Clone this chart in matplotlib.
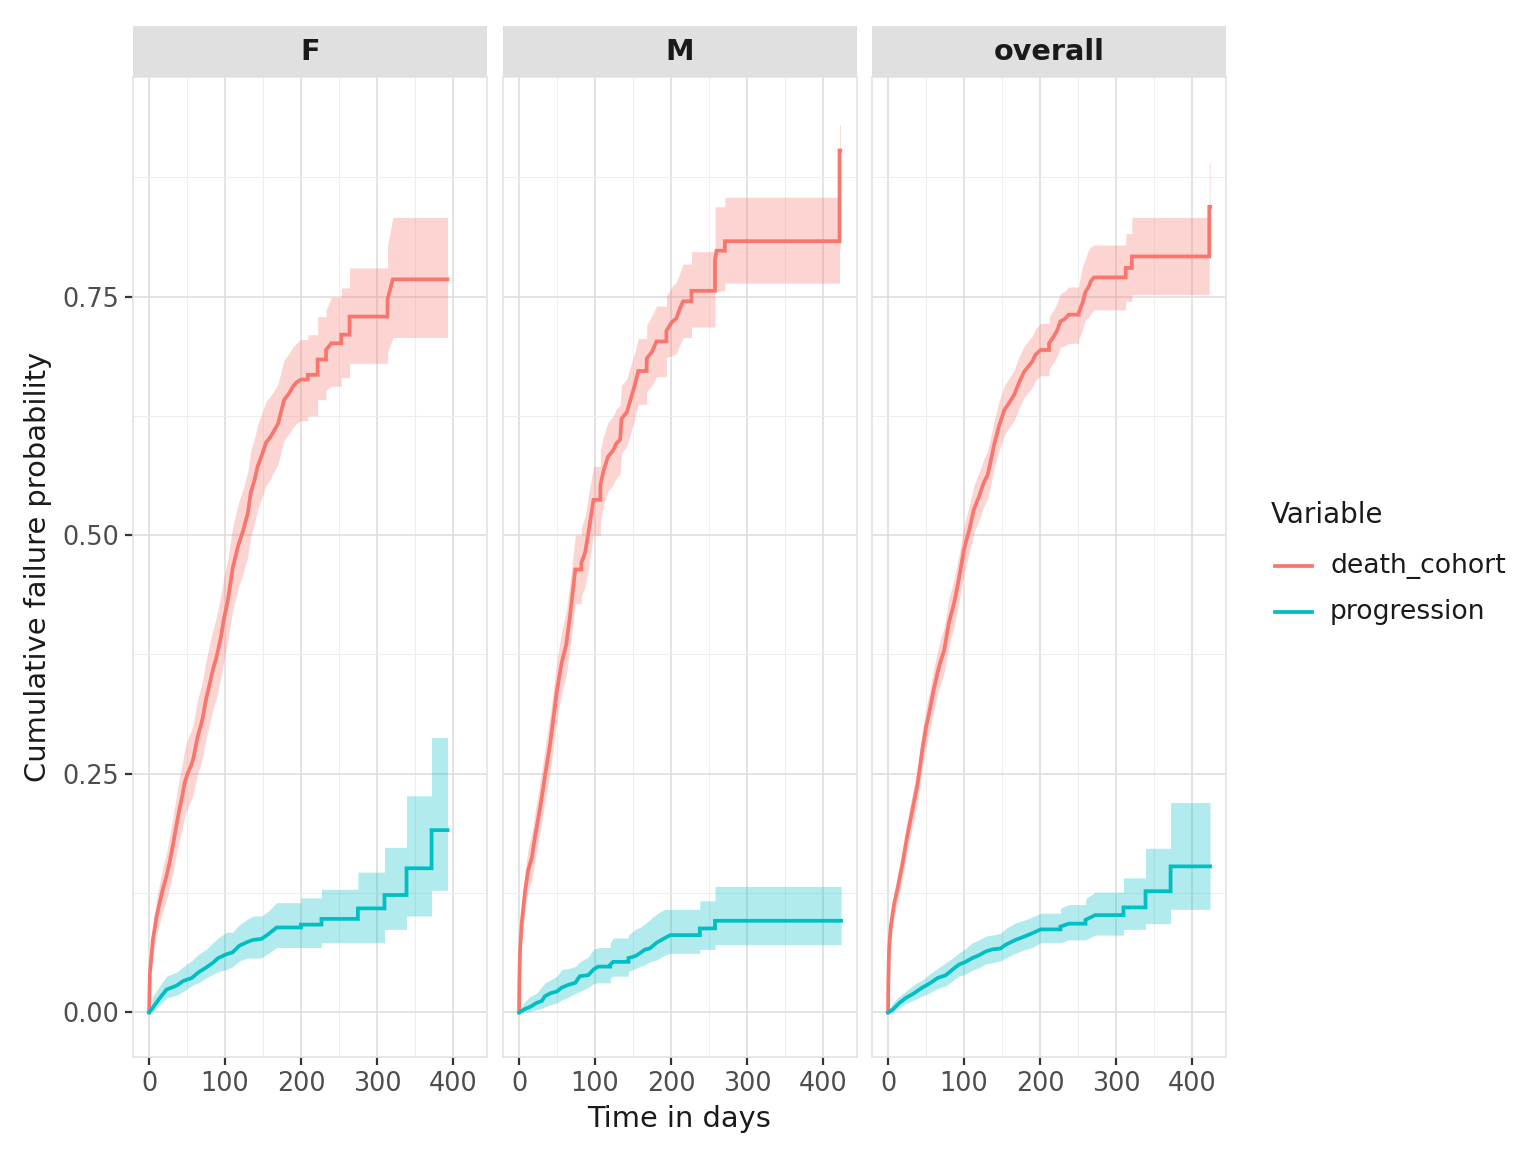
import matplotlib
matplotlib.use("Agg")
import matplotlib.pyplot as plt
from matplotlib.lines import Line2D
from matplotlib.ticker import FormatStrFormatter

# cumulative failure curves, step knots (days)
# est = estimate, lo/hi = confidence band at the same knots

# ---- F ----
f_death_t = [0, 1, 5, 10, 14, 18, 23, 27, 32, 36, 40, 44, 47, 51, 55, 58, 61, 64, 68, 71,
             75, 80, 84, 88, 91, 95, 98, 104, 110, 117, 124, 130, 134, 139, 143, 149, 154, 160,
             165, 170, 174, 178, 184, 189, 194, 200, 209, 222, 233, 240, 253, 264, 314, 321, 393]
f_death_est = [0, .041, .076, .101, .115, .129, .143, .157, .178, .196, .213, .228, .241, .251,
               .258, .265, .277, .289, .300, .310, .328, .345, .359, .370, .380, .395, .410, .433,
               .465, .488, .505, .523, .545, .558, .572, .585, .597, .603, .610, .617, .630, .642,
               .648, .655, .660, .663, .668, .684, .694, .701, .710, .729, .747, .768, .768]
f_death_lo = [0, .030, .060, .082, .094, .106, .118, .130, .148, .165, .180, .194, .206, .215,
              .222, .228, .239, .250, .260, .270, .287, .303, .317, .328, .338, .352, .367, .390,
              .421, .444, .460, .478, .499, .513, .527, .540, .552, .559, .567, .575, .588, .600,
              .606, .612, .617, .620, .625, .642, .652, .656, .665, .680, .691, .707, .707]
f_death_hi = [0, .052, .092, .120, .136, .152, .168, .184, .208, .227, .246, .262, .276, .287,
              .294, .302, .315, .328, .340, .350, .369, .387, .401, .412, .423, .439, .454, .476,
              .508, .532, .549, .567, .589, .602, .616, .629, .640, .646, .652, .659, .672, .684,
              .690, .697, .701, .705, .710, .729, .736, .749, .759, .780, .803, .833, .833]

f_prog_t = [0, 5, 14, 23, 36, 45, 56, 65, 75, 84, 91, 102, 110, 119, 130, 137, 148, 157, 168,
            200, 227, 275, 310, 339, 372, 393]
f_prog_est = [0, .005, .015, .024, .028, .033, .036, .042, .047, .052, .057, .061, .063, .070,
              .074, .076, .077, .082, .089, .092, .098, .109, .123, .151, .191, .191]
f_prog_lo = [0, .001, .008, .015, .018, .022, .028, .031, .036, .040, .043, .045, .048, .054,
             .057, .057, .057, .062, .068, .068, .073, .073, .087, .101, .128, .128]
f_prog_hi = [0, .017, .028, .038, .042, .048, .054, .061, .066, .073, .078, .084, .084, .092,
             .098, .101, .101, .106, .115, .120, .129, .147, .173, .227, .288, .288]

# ---- M ----
m_death_t = [0, 0.3, 1.3, 3.5, 8, 12, 17, 21, 28, 34, 41, 45, 50, 56, 62, 67, 74, 82, 87, 91,
             98, 107, 111, 117, 124, 128, 133, 135, 142, 146, 153, 157, 168, 175, 181, 194, 201,
             207, 212, 216, 227, 258, 260, 271, 422, 423]
m_death_est = [0, .031, .066, .094, .128, .149, .163, .184, .216, .247, .282, .307, .338, .366,
               .385, .415, .464, .471, .482, .501, .537, .552, .567, .582, .589, .596, .600, .622,
               .629, .640, .659, .672, .685, .692, .703, .714, .723, .727, .738, .745, .756, .788,
               .798, .808, .903, .903]
m_death_lo = [0, .02, .05, .075, .108, .128, .14, .16, .19, .22, .253, .277, .307, .334, .352,
              .381, .428, .436, .446, .464, .50, .516, .531, .546, .553, .560, .564, .586, .593,
              .604, .624, .637, .650, .657, .666, .686, .688, .690, .700, .707, .718, .756, .756,
              .764, .80, .80]
m_death_hi = [0, .045, .085, .115, .15, .172, .188, .21, .243, .276, .312, .338, .37, .399, .42,
              .45, .50, .508, .52, .54, .572, .588, .603, .618, .625, .632, .636, .657, .664,
              .675, .693, .706, .720, .730, .740, .751, .760, .765, .775, .784, .797, .844, .844,
              .854, .93, .93]

m_prog_t = [0, 6, 15, 23, 30, 34, 41, 50, 56, 65, 74, 80, 91, 98, 104, 120, 124, 144, 153, 159,
            166, 172, 181, 192, 199, 238, 258, 424]
m_prog_est = [0, .003, .006, .010, .012, .017, .020, .022, .026, .029, .031, .038, .039, .045,
              .048, .050, .053, .057, .059, .062, .066, .067, .073, .078, .081, .088, .096, .096]
m_prog_lo = [0, 0, .001, .003, .004, .006, .008, .010, .013, .016, .020, .022, .026, .030, .031,
             .036, .038, .043, .046, .048, .050, .053, .055, .060, .062, .066, .071, .071]
m_prog_hi = [0, .010, .017, .020, .027, .031, .034, .038, .045, .046, .048, .053, .058, .066,
             .068, .073, .078, .081, .087, .089, .093, .097, .103, .108, .108, .117, .132, .132]

# ---- overall ----
o_death_t = [0, 0.3, 1.3, 3.5, 8, 12, 19, 25, 32, 39, 45, 50, 54, 60, 67, 74, 80, 87, 93, 100,
             107, 113, 120, 126, 131, 135, 140, 146, 153, 159, 166, 172, 179, 185, 190, 194, 201,
             212, 218, 223, 227, 232, 238, 251, 256, 260, 264, 267, 271, 313, 321, 423, 424]
o_death_est = [0, .031, .066, .090, .114, .128, .156, .184, .212, .240, .275, .299, .313, .338,
               .362, .380, .408, .429, .453, .485, .506, .527, .541, .555, .563, .577, .596, .614,
               .631, .638, .647, .659, .671, .677, .682, .689, .694, .701, .708, .715, .724, .726,
               .731, .733, .743, .755, .760, .766, .770, .780, .792, .844, .844]
o_death_lo = [0, .022, .055, .078, .101, .114, .141, .168, .195, .222, .256, .279, .292, .316,
              .339, .356, .383, .404, .428, .46, .481, .502, .516, .530, .538, .552, .571, .588,
              .605, .612, .620, .632, .644, .650, .655, .662, .667, .674, .681, .688, .697, .698,
              .701, .705, .715, .726, .728, .732, .736, .745, .752, .80, .80]
o_death_hi = [0, .04, .077, .102, .127, .142, .171, .200, .229, .258, .294, .319, .334, .360,
              .385, .404, .433, .454, .478, .510, .531, .552, .566, .580, .588, .602, .621, .640,
              .657, .664, .673, .686, .698, .704, .709, .716, .722, .729, .736, .744, .753, .755,
              .760, .762, .781, .790, .799, .802, .804, .816, .833, .89, .89]

o_prog_t = [0, 6, 15, 23, 34, 45, 56, 65, 76, 85, 93, 102, 111, 120, 129, 137, 148, 155, 168,
            181, 190, 201, 227, 238, 260, 273, 310, 339, 372, 424]
o_prog_est = [0, .003, .010, .015, .020, .026, .031, .036, .039, .045, .050, .053, .057, .060,
              .064, .066, .067, .071, .076, .080, .083, .087, .090, .093, .097, .102, .110, .127,
              .153, .153]
o_prog_lo = [0, .000, .005, .009, .013, .017, .021, .025, .028, .033, .038, .040, .044, .047,
             .051, .052, .054, .057, .062, .066, .068, .073, .073, .076, .076, .081, .087, .093,
             .108, .108]
o_prog_hi = [0, .010, .017, .022, .029, .034, .041, .046, .052, .057, .062, .067, .073, .076,
             .080, .081, .083, .088, .094, .097, .100, .104, .109, .113, .119, .126, .141, .172,
             .220, .220]

panel_names = ["F", "M", "overall"]
variables = ["death_cohort", "progression"]
colors = {"death_cohort": "#F8766D", "progression": "#00BFC4"}
# knots closer than this (days) are dense events and get joined directly
max_gap = {"death_cohort": 7.5, "progression": 13.5}

panel_data = {
    "F": {"death_cohort": (f_death_t, f_death_est, f_death_lo, f_death_hi),
          "progression": (f_prog_t, f_prog_est, f_prog_lo, f_prog_hi)},
    "M": {"death_cohort": (m_death_t, m_death_est, m_death_lo, m_death_hi),
          "progression": (m_prog_t, m_prog_est, m_prog_lo, m_prog_hi)},
    "overall": {"death_cohort": (o_death_t, o_death_est, o_death_lo, o_death_hi),
                "progression": (o_prog_t, o_prog_est, o_prog_lo, o_prog_hi)},
}


def step_path(t, ys, gap):
    """Close knots are joined directly, wider gaps get a flat run and a jump."""
    xs = [t[0]]
    out = [[y[0]] for y in ys]
    for i in range(1, len(t)):
        if t[i] - t[i - 1] > gap:
            xs.append(t[i])
            for o, y in zip(out, ys):
                o.append(y[i - 1])
        xs.append(t[i])
        for o, y in zip(out, ys):
            o.append(y[i])
    return xs, out


W, H = 1536, 1152
fig = plt.figure(figsize=(W / 200, H / 200), dpi=200)

panel_left = [133, 503, 872]
panel_w = 354
panel_top, panel_bot = 77, 1057
strip_top = 26

for i, name in enumerate(panel_names):
    x0 = panel_left[i] / W
    ax = fig.add_axes([x0, 1 - panel_bot / H, panel_w / W, (panel_bot - panel_top) / H])
    for var in variables:
        t, est, lo, hi = panel_data[name][var]
        xs, (e, l, h) = step_path(t, [est, lo, hi], max_gap[var])
        ax.fill_between(xs, l, h, color=colors[var], alpha=0.3, lw=0)
        ax.plot(xs, e, color=colors[var], lw=1.35, solid_joinstyle="miter")

    ax.set_xlim(-21.2, 445)
    ax.set_ylim(-0.0467, 0.98)
    ax.set_xticks([0, 100, 200, 300, 400])
    ax.set_xticks([50, 150, 250, 350], minor=True)
    ax.set_yticks([0, 0.25, 0.5, 0.75])
    ax.set_yticks([0.125, 0.375, 0.625, 0.875], minor=True)
    ax.yaxis.set_major_formatter(FormatStrFormatter("%.2f"))
    ax.grid(which="major", color="#DEDEDE", lw=0.6)
    ax.grid(which="minor", color="#EEEEEE", lw=0.4)
    ax.set_axisbelow(True)
    for s in ax.spines.values():
        s.set_color("#E3E3E3")
        s.set_linewidth(0.6)
    ax.tick_params(which="minor", length=0)
    ax.tick_params(which="major", length=3, width=0.8, color="#333333",
                   labelsize=9.2, labelcolor="#4D4D4D", pad=2)
    if i > 0:
        ax.tick_params(axis="y", left=False, labelleft=False)

    sx = fig.add_axes([x0, 1 - panel_top / H, panel_w / W, (panel_top - strip_top) / H])
    sx.set_facecolor("#E0E0E0")
    sx.set_xticks([])
    sx.set_yticks([])
    for s in sx.spines.values():
        s.set_visible(False)
    sx.text(0.5, 0.5, name, ha="center", va="center", fontsize=10.3,
            fontweight="bold", color="#1A1A1A", transform=sx.transAxes)

fig.text(38 / W, 1 - 567 / H, "Cumulative failure probability", rotation=90,
         ha="center", va="center", fontsize=10.4, color="#1A1A1A")
fig.text(679 / W, 1 - 1119 / H, "Time in days", ha="center", va="center",
         fontsize=10.4, color="#1A1A1A")

# legend
fig.text(1271 / W, 1 - 515 / H, "Variable", ha="left", va="center", fontsize=10,
         color="#1A1A1A")
for k, var in enumerate(variables):
    y = 1 - (566 + 46 * k) / H
    fig.add_artist(Line2D([1275 / W, 1312 / W], [y, y], transform=fig.transFigure,
                          color=colors[var], lw=1.35))
    fig.text(1330 / W, y, var, ha="left", va="center", fontsize=9.6, color="#1A1A1A")

fig.savefig("out.png", dpi=200, facecolor="white")
